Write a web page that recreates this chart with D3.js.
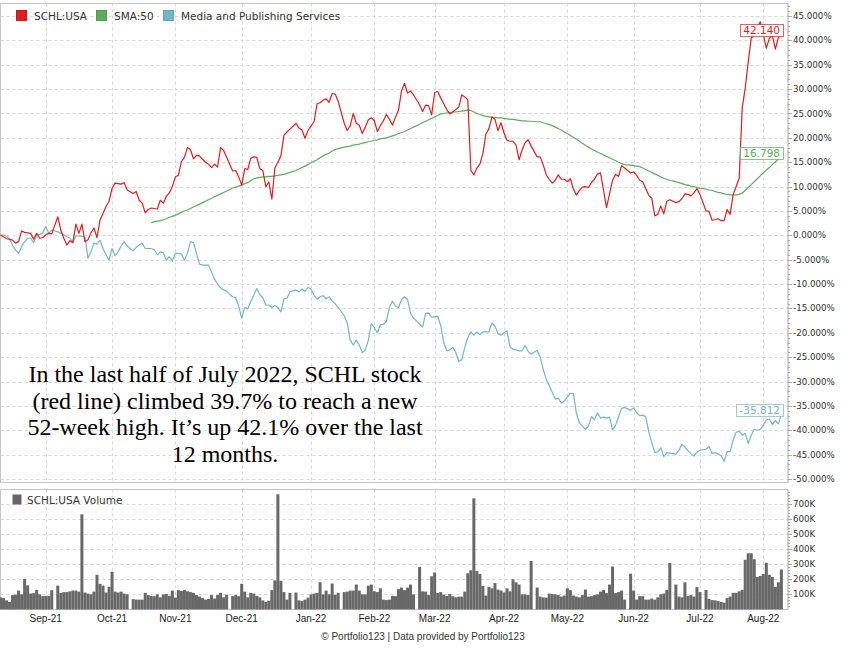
<!DOCTYPE html>
<html>
<head>
<meta charset="utf-8">
<script src="https://cdn.jsdelivr.net/npm/d3@7"></script>
<style>
  body { margin: 0; background: #fff; }
  svg text { font-family: "DejaVu Sans", sans-serif; }
</style>
</head>
<body>
<svg id="chart" width="845" height="650"></svg>
<script>
// one value per weekday, Aug 11 2021 -> Aug 9 2022 (null = market closed)
var startDay = "2021-08-11",
    endDay = "2022-08-09";

// SCHL:USA, % change since start
var schl = [
  0, -0.3, -0.7, -0.8, -1.0, -1.6, -1.3, 0.9, 0.6, 0.5, 0.4, -0.8, 0.4, -0.6, -0.5,                       // Aug-21
  0.1, 0.4, 0.3, null, 3.8, 1.1, -0.6, -2.0, -1.1, -1.5, 2.3, 0.4, 2.3, -1.3, -0.9, 0.5, 1.5, -0.5, 3.1, 4.5, 5.9, 7.0, // Sep-21
  9.6, 10.7, 10.6, 10.5, 10.8, 9.3, null, 8.6, 9.0, 7.2, 6.6, 4.6, 5.3, 5.6, 5.5, 5.4, 7.2, 6.6, 8.0, 8.7, 10.0, // Oct-21
  12.0, 12.3, 15.1, 16.0, 18.0, 17.6, 15.7, 16.4, 16.3, 15.6, 15.0, 14.6, 13.9, 14.6, 14.0, 18.0, 17.4, 16.0, null, 13.2, 13.3, 12.0, // Nov-21
  10.3, 13.7, 13.5, 15.8, 16.1, 16.0, 13.7, 13.3, 10.0, 10.9, 7.4, 13.8, 15.0, 16.3, 20.5, 21.2, 21.8, null, 23.0, 22.0, 21.6, 19.9, 21.5, // Dec-21
  22.4, 23.3, 27.0, 27.2, 27.7, 28.0, 27.3, 29.1, 29.0, 27.5, null, 23.0, 21.5, 22.5, 25.0, 23.0, 22.6, 20.9, 22.2, 23.7, 24.1, // Jan-22
  23.5, 21.3, 22.5, 23.5, 24.8, 23.8, 22.6, 24.2, 25.7, 29.6, 31.2, 29.2, 29.6, 28.8, null, 26.8, 25.4, 26.7, 26.6, 24.7, // Feb-22
  29.3, 29.5, 28.2, 27.0, 25.8, 24.9, 25.3, 25.8, 26.3, 28.8, 28.4, 27.8, 13.3, 12.4, 13.8, 14.6, 16.8, 20.8, 21.9, 24.3, 23.8, 21.5, 23.1, // Mar-22
  21.0, 19.5, 19.3, 19.3, 18.5, 15.5, 17.5, 19.0, 19.6, 18.3, null, 16.1, 16.1, 14.5, 12.4, 11.5, 10.7, 11.3, 12.4, 11.5, 11.5, // Apr-22
  11.0, 11.6, 9.5, 8.3, 9.2, 9.9, 10.0, 9.8, 10.8, 11.5, 12.6, 12.8, 9.3, 5.7, 8.5, 11.3, 12.5, 12.1, 14.3, 13.8, null, 12.8, // May-22
  13.0, 12.3, 11.3, 11.0, 9.6, 8.2, 7.6, 4.0, 4.3, 6.0, 4.4, 7.0, 7.3, null, 6.7, 6.9, 7.5, 8.5, 8.4, 8.1, 8.7, 9.6, // Jun-22
  8.4, null, 5.0, 4.9, 3.1, 3.2, 3.4, 3.0, 3.0, 5.3, 4.3, 8.3, 10.0, 11.7, 26.1, 30.2, 35.6, 40.5, 41.0, 42.8, 43.8, // Jul-22
  41.2, 38.4, 40.4, 41.0, 38.2, 40.6, 42.14                                                                  // Aug-22
];

// SMA:50 of SCHL
var sma50 = [
  null, null, null, null, null, null, null, null, null, null, null, null, null, null, null,
  null, null, null, null, null, null, null, null, null, null, null, null, null, null, null, null, null, null, null, null, null, null,
  null, null, null, null, null, null, null, null, null, null, null, null, null, 2.6, 2.8, 2.9, 3.0, 3.2, 3.4, 3.7, 3.9,
  4.1, 4.4, 4.7, 5.0, 5.2, 5.5, 5.8, 6.1, 6.4, 6.7, 7.0, 7.3, 7.6, 7.9, 8.2, 8.5, 8.8, 9.1, null, 9.7, 9.9, 10.1,
  10.3, 10.6, 10.8, 11.2, 11.6, 11.8, 11.9, 12.0, 12.0, 12.1, 12.1, 12.2, 12.3, 12.4, 12.5, 12.7, 12.9, null, 13.3, 13.6, 13.9, 14.2, 14.5,
  14.9, 15.2, 15.5, 15.9, 16.3, 16.6, 16.9, 17.3, 17.6, 17.8, null, 18.1, 18.2, 18.3, 18.5, 18.6, 18.7, 18.9, 19.0, 19.2, 19.3,
  19.5, 19.6, 19.8, 19.9, 20.0, 20.2, 20.4, 20.6, 20.9, 21.1, 21.3, 21.6, 21.9, 22.2, null, 22.8, 23.1, 23.4, 23.7, 24.0,
  24.3, 24.6, 24.9, 25.0, 25.1, 25.2, 25.3, 25.3, 25.4, 25.5, 25.6, 25.7, 25.6, 25.3, 25.0, 24.8, 24.6, 24.4, 24.3, 24.2, 24.2, 24.1, 24.1,
  24.0, 23.9, 23.8, 23.8, 23.7, 23.6, 23.5, 23.5, 23.4, 23.4, null, 23.3, 23.3, 23.1, 22.9, 22.7, 22.5, 22.2, 21.9, 21.6, 21.2,
  20.9, 20.5, 20.1, 19.7, 19.3, 18.9, 18.5, 18.1, 17.7, 17.4, 17.1, 16.8, 16.5, 16.2, 15.9, 15.6, 15.3, 15.0, 14.7, 14.5, null, 14.4,
  14.3, 14.2, 14.1, 13.8, 13.5, 13.2, 12.9, 12.6, 12.3, 12.0, 11.7, 11.5, 11.3, null, 11.0, 10.8, 10.6, 10.4, 10.3, 10.1, 10.0, 9.8,
  9.7, null, 9.5, 9.3, 9.2, 9.0, 8.8, 8.7, 8.5, 8.4, 8.3, 8.3, 8.3, 8.4, 8.7, 9.2, 9.8, 10.4, 11.0, 11.6, 12.2,
  12.8, 13.4, 13.9, 14.5, 15.1, 15.6, 16.2
];

// Media and Publishing Services industry
var industry = [
  0, 0.1, -0.2, -0.8, -2.0, -3.0, -3.7, -2.3, -1.3, -0.6, -0.6, -1.5, 0.1, 0.2, 0.5,
  1.8, 0.4, 1.1, null, 0.7, 0.4, 0.1, -0.3, -0.5, -1.4, -0.1, -0.1, -0.2, -0.3, -4.7, -3.4, -1.6, -1.8, -1.0, -2.7, -4.0, -5.1,
  -2.7, -4.2, -3.4, -2.2, -1.3, -2.2, null, -3.2, -2.5, -2.0, -1.6, -2.7, -2.7, -2.7, -2.9, -4.0, -3.4, -3.6, -5.1, -4.4, -5.3,
  -3.7, -3.7, -3.8, -5.1, -3.6, -1.3, -1.5, -3.7, -5.9, -6.1, -6.1, -6.1, -7.5, -9.0, -10.0, -10.8, -11.2, -11.5, null, -12.6, -12.8, -14.5,
  -17.0, -14.8, -15.1, -13.6, -12.3, -10.9, -12.2, -12.8, -14.3, -14.3, -14.8, -14.4, -14.8, -15.7, -13.1, -12.9, -11.6, null, -11.2, -11.6, -11.0, -11.5, -10.7,
  -11.0, -12.3, -13.1, -12.6, -12.4, -13.0, -12.6, -13.5, -14.0, -14.8, null, -16.5, -18.0, -21.5, -22.5, -21.5, -22.5, -24.1, -23.5, -21.5, -18.1,
  -19.0, -20.0, -18.3, -18.3, -17.6, -14.8, -13.5, -14.5, -14.8, -13.2, -12.6, -13.1, -16.0, -17.0, null, -18.2, -18.8, -16.0, -15.9, -16.8,
  -16.7, -16.6, -18.5, -22.0, -23.7, -23.5, -23.0, -24.0, -25.9, -25.5, -23.0, -21.0, -19.8, -20.5, -19.8, -20.4, -19.8, -19.8, -19.8, -18.0, -18.6, -20.2, -20.5,
  -20.0, -19.6, -22.9, -23.4, -23.5, -23.7, -23.7, -22.6, -23.8, -24.4, null, -23.6, -25.0, -27.5, -29.5, -30.8, -32.2, -33.6, -33.4, -34.4, -34.0,
  -33.2, -32.4, -32.5, -36.5, -38.5, -39.2, -39.8, -39.2, -37.2, -37.8, -36.4, -37.5, -37.3, -37.5, -37.3, -39.9, -39.0, -37.2, -35.5, -35.3, null, -35.9,
  -35.4, -36.4, -37.0, -36.9, -37.2, -40.3, -42.5, -44.6, -44.4, -43.6, -45.4, -44.6, -44.7, null, -44.9, -44.1, -42.9, -43.4, -44.2, -44.8, -45.3, -44.5,
  -44.1, null, -43.9, -43.3, -44.8, -44.6, -44.9, -45.2, -46.4, -44.4, -44.4, -42.0, -40.4, -40.2, -41.0, -40.6, -42.7, -41.0, -39.8, -40.0, -39.8,
  -39.0, -37.9, -37.7, -38.8, -38.0, -38.7, -36.8
];

// SCHL:USA volume, thousands of shares
var volume = [
  80, 75, 60, 50, 95, 98, 125, 100, 202, 160, 105, 108, 130, 100, 88,
  90, 90, 128, null, 158, 110, 115, 115, 120, 125, 125, 118, 632, 112, 105, 100, 118, 230, 170, 158, 112, 150,
  250, 118, 112, 118, 105, 100, null, 68, 65, 65, 65, 110, 95, 90, 88, 100, 80, 100, 103, 90, 125,
  78, 128, 122, 130, 120, 115, 110, 95, 85, 75, 65, 70, 95, 72, 95, 110, 80, 98, null, 88, 95, 88,
  170, 118, 80, 110, 105, 90, 80, 60, 50, 58, 128, 193, 765, 190, 115, 65, 110, null, 112, 60, 55, 65, 78,
  100, 105, 110, 180, 100, 125, 100, 172, 98, 110, null, 115, 118, 125, 125, 165, 125, 100, 100, 158, 165,
  120, 115, 140, 65, 62, 65, 90, 88, 135, 145, 128, 145, 165, 100, null, 282, 120, 118, 95, 220,
  245, 110, 115, 98, 90, 102, 88, 80, 85, 85, 118, 240, 260, 738, 255, 235, 155, 92, 150, 140, 175, 132, 125,
  112, 140, 120, 200, 180, 165, 100, 100, 95, 322, null, 145, 85, 80, 78, 105, 102, 100, 95, 85, 92,
  140, 128, 92, 85, 80, 95, 132, 85, 88, 95, 100, 118, 130, 108, 165, 285, 108, 115, 125, 65, null, 237,
  125, 65, 88, 88, 65, 65, 72, 65, 80, 100, 105, 130, 308, null, 165, 85, 80, 180, 88, 95, 85, 148,
  115, null, 130, 70, 62, 60, 55, 50, 45, 75, 85, 110, 110, 120, 130, 330, 373, 373, 333, 215, 222,
  235, 310, 230, 215, 150, 180, 265
];

var seriesNames = ["SCHL:USA", "SMA:50", "Media and Publishing Services"];
var seriesColors = ["#dc1e1e", "#5eac5a", "#74b6c4"];
var lastLabels = ["42.140", "16.798", "-35.812"];
var lastLabelValues = [42.14, 16.798, -35.812];
var pctTicks = d3.range(-50, 46, 5);
var volTicks = [100, 200, 300, 400, 500, 600, 700];
var note = ["In the last half of July 2022, SCHL stock",
            "(red line) climbed 39.7% to reach a new",
            "52-week high. It\u2019s up 42.1% over the last",
            "12 months."];

var parse = d3.timeParse("%Y-%m-%d");
var days = d3.timeDay.range(parse(startDay), d3.timeDay.offset(parse(endDay), 1))
    .filter(function (d) { return d.getDay() !== 0 && d.getDay() !== 6; });

var svg = d3.select("#chart");
var plotL = 0.5, plotR = 788,
    mainTop = 3.5, mainBot = 482.5,
    volTop = 489.5, volBot = 609.5;

var x = d3.scaleLinear().domain([0, days.length - 1]).range([0.5, 0.5 + 3.015 * (days.length - 1)]);
var y = d3.scaleLinear().domain([-50, 45]).range([479, 16]);
var yv = d3.scaleLinear().domain([0, 800]).range([609.4, 489]);

// first weekday of each month
var monthIdx = [];
days.forEach(function (d, i) {
    if (i > 0 && d.getMonth() !== days[i - 1].getMonth()) monthIdx.push(i);
});

function gridLines(top, bottom, yScale, yVals) {
    var g = svg.append("g").attr("stroke", "#d6d6d6").attr("stroke-dasharray", "3,3");
    g.selectAll(".h").data(yVals).enter().append("line")
        .attr("x1", plotL).attr("x2", plotR)
        .attr("y1", function (d) { return Math.round(yScale(d)) + 0.5; })
        .attr("y2", function (d) { return Math.round(yScale(d)) + 0.5; });
    g.selectAll(".v").data(monthIdx).enter().append("line")
        .attr("y1", top).attr("y2", bottom)
        .attr("x1", function (i) { return Math.round(x(i)) + 0.5; })
        .attr("x2", function (i) { return Math.round(x(i)) + 0.5; });
}

// panel frames
[[mainTop, mainBot], [volTop, volBot]].forEach(function (p) {
    svg.append("path")
        .attr("d", "M" + plotR + "," + p[0] + "H" + plotL + "V" + p[1] + "H" + plotR)
        .attr("fill", "none").attr("stroke", "#c4c4c4");
});

gridLines(mainTop, mainBot, y, pctTicks);
gridLines(volTop, volBot, yv, volTicks);

// lines
function pts(arr) {
    return arr.map(function (v, i) { return { i: i, v: v }; })
        .filter(function (d) { return d.v !== null; });
}
var line = d3.line()
    .x(function (d) { return x(d.i); })
    .y(function (d) { return y(d.v); });

[industry, sma50, schl].forEach(function (arr, k) {
    var color = [seriesColors[2], seriesColors[1], seriesColors[0]][k];
    svg.append("path")
        .datum(pts(arr))
        .attr("d", line)
        .attr("fill", "none")
        .attr("stroke", color)
        .attr("stroke-width", 1.2)
        .attr("stroke-linejoin", "round");
});

// volume bars
svg.append("g").selectAll("rect")
    .data(pts(volume)).enter().append("rect")
    .attr("x", function (d) { return x(d.i) - 1.5; })
    .attr("width", 3)
    .attr("y", function (d) { return yv(d.v); })
    .attr("height", function (d) { return yv(0) - yv(d.v); })
    .attr("fill", "#686868");

// right axes
function fmtPct(d) { return d.toFixed(3) + "%"; }
function rightAxis(scale, major, minor, fmt, top, bottom) {
    var g = svg.append("g").attr("transform", "translate(" + plotR + ",0)");
    g.append("line").attr("y1", top).attr("y2", bottom).attr("stroke", "#a8a8a8");
    g.selectAll(".mn").data(minor).enter().append("line")
        .attr("x2", 2)
        .attr("y1", function (d) { return Math.round(scale(d)) + 0.5; })
        .attr("y2", function (d) { return Math.round(scale(d)) + 0.5; })
        .attr("stroke", "#a8a8a8");
    g.selectAll(".mj").data(major).enter().append("line")
        .attr("x2", 4)
        .attr("y1", function (d) { return Math.round(scale(d)) + 0.5; })
        .attr("y2", function (d) { return Math.round(scale(d)) + 0.5; })
        .attr("stroke", "#a8a8a8");
    g.selectAll("text").data(major).enter().append("text")
        .attr("x", 5)
        .attr("y", function (d) { return scale(d); })
        .attr("dy", "0.35em")
        .style("font-size", "8.7px")
        .style("fill", "#333")
        .text(fmt);
}
rightAxis(y, pctTicks, d3.range(-50, 48, 1), fmtPct, mainTop, mainBot);
rightAxis(yv, volTicks, d3.range(20, 800, 20), function (d) { return d + "K"; }, volTop, volBot);

// month labels
svg.append("g").selectAll("text")
    .data(monthIdx).enter().append("text")
    .attr("x", function (i) { return x(i); })
    .attr("y", 622)
    .attr("text-anchor", "middle")
    .style("font-family", "'Liberation Sans', sans-serif")
    .style("font-size", "10px")
    .style("fill", "#222")
    .text(function (i) { return d3.timeFormat("%b-%y")(days[i]); });

svg.append("text")
    .attr("x", 423).attr("y", 640)
    .attr("text-anchor", "middle")
    .style("font-family", "'Liberation Sans Narrow', 'Liberation Sans', sans-serif")
    .style("font-size", "10px")
    .style("fill", "#333")
    .text("\u00a9 Portfolio123 | Data provided by Portfolio123");

// legend
var legX = [16, 96, 163];
seriesNames.forEach(function (name, k) {
    svg.append("rect").attr("x", legX[k] + 0.5).attr("y", 10.5).attr("width", 10).attr("height", 10)
        .attr("fill", seriesColors[k]).attr("stroke", d3.color(seriesColors[k]).darker(0.3));
    svg.append("text").attr("x", legX[k] + 18).attr("y", 19.5)
        .style("font-size", "10.5px").style("fill", "#333").text(name);
});
svg.append("rect").attr("x", 12.5).attr("y", 494.5).attr("width", 9).attr("height", 10).attr("fill", "#666");
svg.append("text").attr("x", 27).attr("y", 503.5)
    .style("font-size", "10.5px").style("fill", "#333").text("SCHL:USA Volume");

// last-value boxes
lastLabels.forEach(function (txt, k) {
    var cy = y(lastLabelValues[k]);
    var t = svg.append("text")
        .attr("x", 780).attr("y", cy).attr("dy", "0.36em")
        .attr("text-anchor", "end")
        .style("font-size", "10.5px")
        .style("fill", seriesColors[k])
        .text(txt);
    var bb = t.node().getBBox();
    svg.insert("rect", function () { return t.node(); })
        .attr("x", Math.round(bb.x - 3) + 0.5).attr("y", Math.round(cy - 6) + 0.5)
        .attr("width", Math.round(bb.width + 6)).attr("height", 12)
        .attr("fill", "#fff").attr("stroke", seriesColors[k]).attr("stroke-opacity", 0.7);
});

// annotation
svg.append("g").selectAll("text")
    .data(note).enter().append("text")
    .attr("x", 225)
    .attr("y", function (d, i) { return 382 + i * 26.7; })
    .attr("text-anchor", "middle")
    .style("font-family", "'Liberation Serif', 'Times New Roman', serif")
    .style("font-size", "24px")
    .style("fill", "#000")
    .text(function (d) { return d; });
</script>
</body>
</html>
